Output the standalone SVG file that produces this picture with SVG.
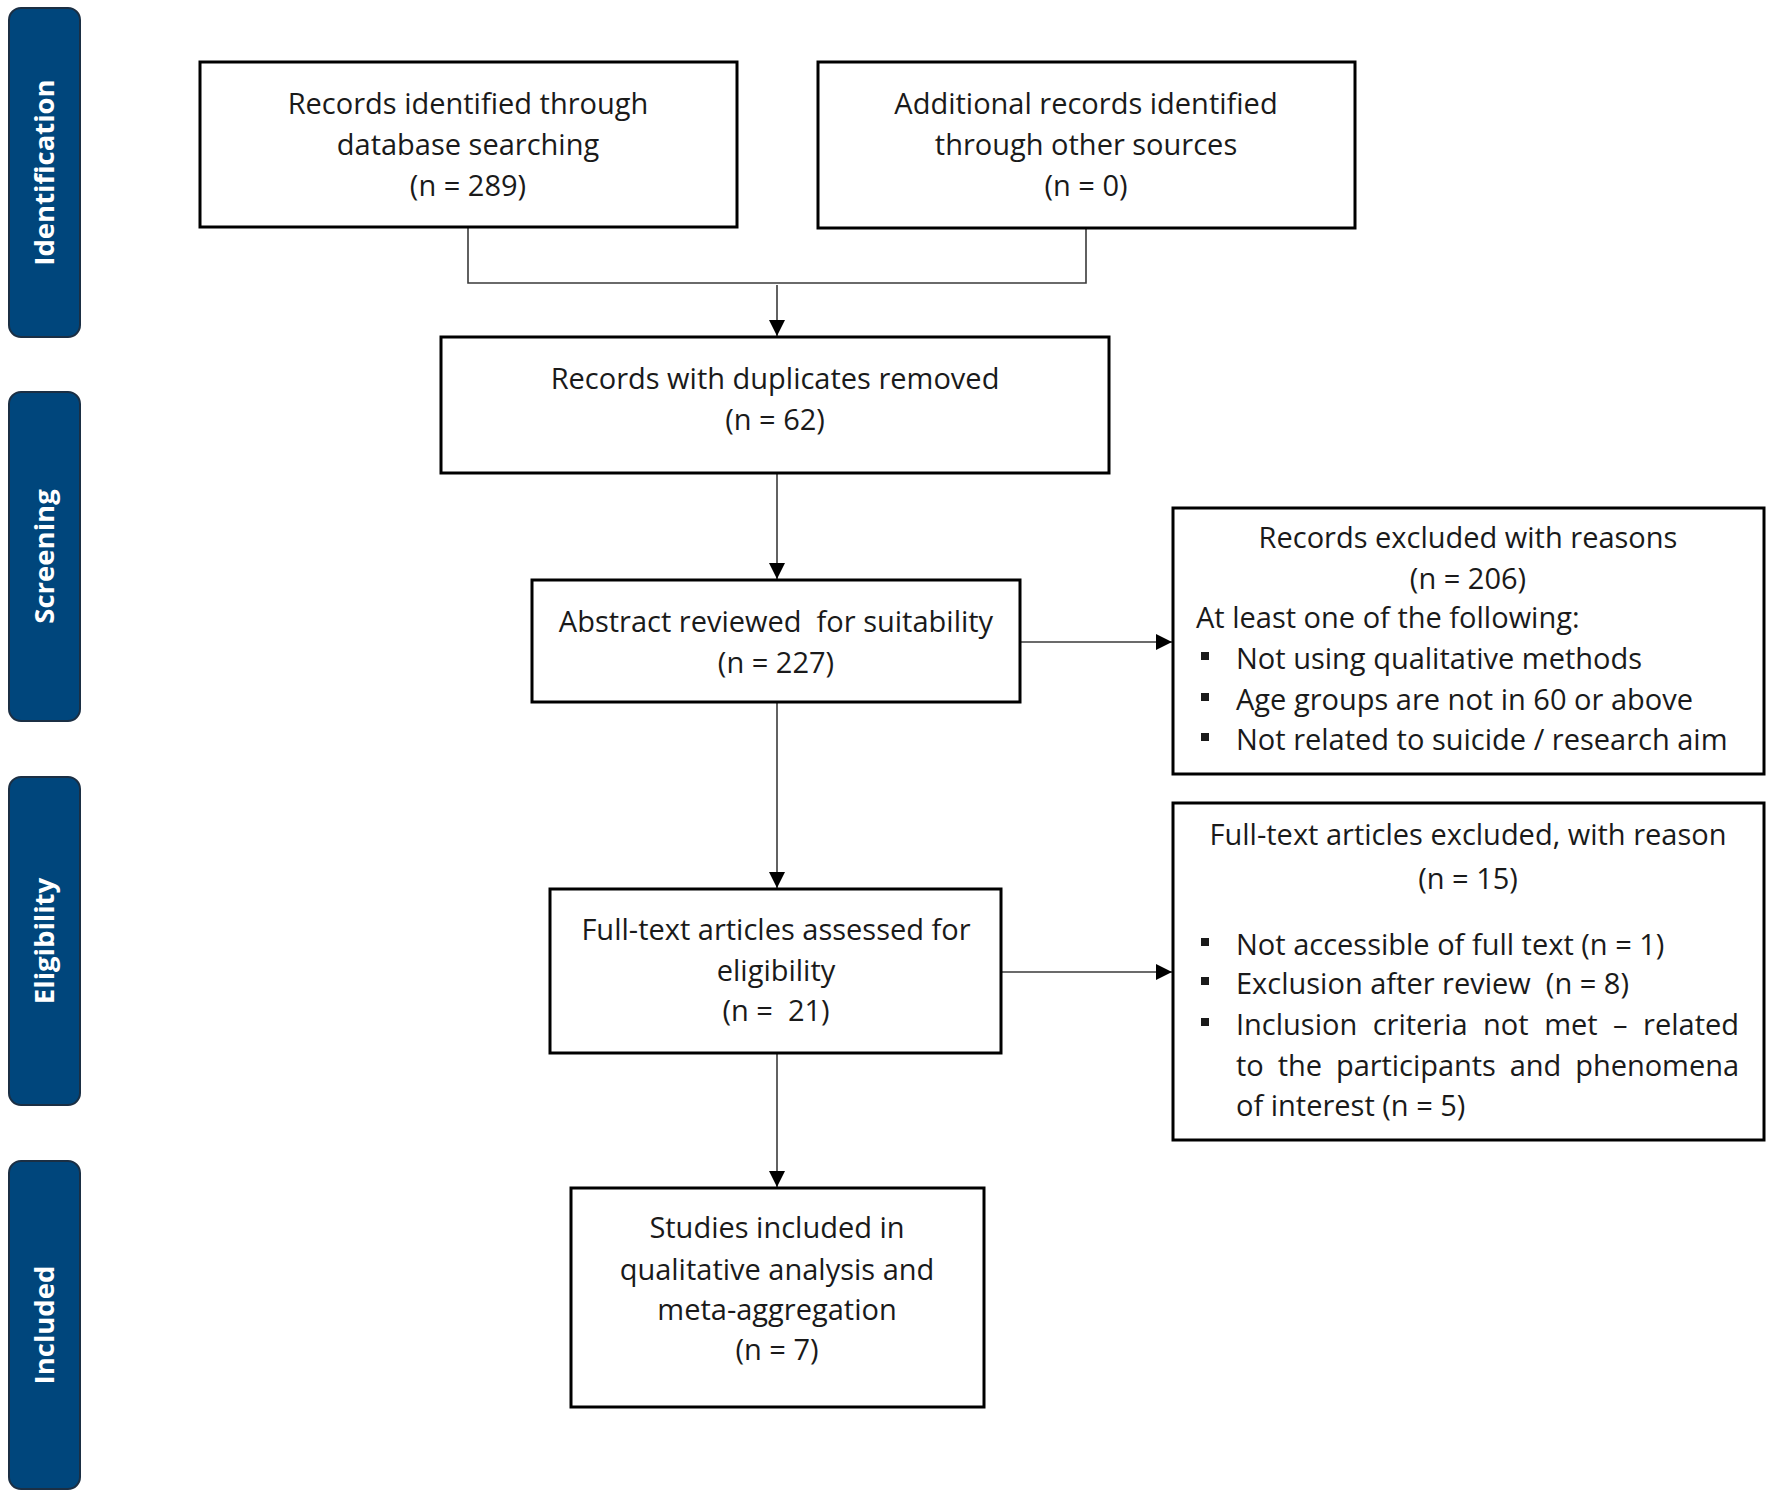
<svg xmlns="http://www.w3.org/2000/svg" width="1772" height="1498" viewBox="0 0 1772 1498">
<style>
.tab{fill:#00467c;stroke:#1b2f44;stroke-width:2}
.tabt{font-family:"Open Sans","DejaVu Sans",sans-serif;font-weight:bold;font-size:27.5px;fill:#ffffff;text-anchor:middle}
.box{fill:#ffffff;stroke:#000000;stroke-width:3}
.t{font-family:"Open Sans","Liberation Sans",sans-serif;font-size:29px;fill:#1a1a1a;white-space:pre}
.c{text-anchor:middle}
.ln{fill:none;stroke:#3a3a3a;stroke-width:1.6}
.bul{fill:#1a1a1a}
</style>
<defs>
<marker id="ah" viewBox="0 0 10 10" refX="10" refY="5" markerWidth="16" markerHeight="16" markerUnits="userSpaceOnUse" orient="auto">
<path d="M0,0 L10,5 L0,10 z" fill="#000000"/>
</marker>
</defs>
<rect width="1772" height="1498" fill="#ffffff"/>

<g id="tab-identification">
<rect class="tab" x="9" y="8" width="71" height="329" rx="12"/>
<text class="tabt" transform="translate(54,172.5) rotate(-90)">Identification</text>
</g>
<g id="tab-screening">
<rect class="tab" x="9" y="392" width="71" height="329" rx="12"/>
<text class="tabt" transform="translate(54,556.5) rotate(-90)">Screening</text>
</g>
<g id="tab-eligibility">
<rect class="tab" x="9" y="777" width="71" height="328" rx="12"/>
<text class="tabt" transform="translate(54,941) rotate(-90)">Eligibility</text>
</g>
<g id="tab-included">
<rect class="tab" x="9" y="1161" width="71" height="328" rx="12"/>
<text class="tabt" transform="translate(54,1325) rotate(-90)">Included</text>
</g>

<g id="connectors">
<path class="ln" d="M468,227 V283 H1086 V228"/>
<path class="ln" d="M777,285 V336" marker-end="url(#ah)"/>
<path class="ln" d="M777,473 V579" marker-end="url(#ah)"/>
<path class="ln" d="M777,702 V888" marker-end="url(#ah)"/>
<path class="ln" d="M777,1053 V1187" marker-end="url(#ah)"/>
<path class="ln" d="M1020,642 H1172" marker-end="url(#ah)"/>
<path class="ln" d="M1001,972 H1172" marker-end="url(#ah)"/>
</g>

<g id="node-database">
<rect class="box" x="200" y="62" width="537" height="165"/>
<text class="t c" x="468" y="114">Records identified through</text>
<text class="t c" x="468" y="155">database searching</text>
<text class="t c" x="468" y="196">(n = 289)</text>
</g>
<g id="node-other">
<rect class="box" x="818" y="62" width="537" height="166"/>
<text class="t c" x="1086" y="114">Additional records identified</text>
<text class="t c" x="1086" y="155">through other sources</text>
<text class="t c" x="1086" y="196">(n = 0)</text>
</g>
<g id="node-duplicates">
<rect class="box" x="441" y="337" width="668" height="136"/>
<text class="t c" x="775" y="389">Records with duplicates removed</text>
<text class="t c" x="775" y="430">(n = 62)</text>
</g>
<g id="node-abstract">
<rect class="box" x="532" y="580" width="488" height="122"/>
<text class="t c" x="776" y="632">Abstract reviewed  for suitability</text>
<text class="t c" x="776" y="673">(n = 227)</text>
</g>
<g id="node-fulltext">
<rect class="box" x="550" y="889" width="451" height="164"/>
<text class="t c" x="776" y="940">Full-text articles assessed for</text>
<text class="t c" x="776" y="981">eligibility</text>
<text class="t c" x="776" y="1021">(n =  21)</text>
</g>
<g id="node-included">
<rect class="box" x="571" y="1188" width="413" height="219"/>
<text class="t c" x="777" y="1238">Studies included in</text>
<text class="t c" x="777" y="1280">qualitative analysis and</text>
<text class="t c" x="777" y="1320">meta-aggregation</text>
<text class="t c" x="777" y="1360">(n = 7)</text>
</g>
<g id="node-excluded-records">
<rect class="box" x="1173" y="508" width="591" height="266"/>
<text class="t c" x="1468" y="548">Records excluded with reasons</text>
<text class="t c" x="1468" y="589">(n = 206)</text>
<text class="t" x="1196" y="628">At least one of the following:</text>
<rect class="bul" x="1201" y="652" width="8" height="8"/>
<text class="t" x="1236" y="669">Not using qualitative methods</text>
<rect class="bul" x="1201" y="693" width="8" height="8"/>
<text class="t" x="1236" y="710">Age groups are not in 60 or above</text>
<rect class="bul" x="1201" y="733" width="8" height="8"/>
<text class="t" x="1236" y="750">Not related to suicide / research aim</text>
</g>
<g id="node-excluded-fulltext">
<rect class="box" x="1173" y="803" width="591" height="337"/>
<text class="t c" x="1468" y="845">Full-text articles excluded, with reason</text>
<text class="t c" x="1468" y="889">(n = 15)</text>
<rect class="bul" x="1201" y="938" width="8" height="8"/>
<text class="t" x="1236" y="955">Not accessible of full text (n = 1)</text>
<rect class="bul" x="1201" y="977" width="8" height="8"/>
<text class="t" x="1236" y="994">Exclusion after review  (n = 8)</text>
<rect class="bul" x="1201" y="1018" width="8" height="8"/>
<text class="t" x="1236" y="1035" word-spacing="8" textLength="503" lengthAdjust="spacing">Inclusion criteria not met – related</text>
<text class="t" x="1236" y="1076" word-spacing="6.5" textLength="503" lengthAdjust="spacing">to the participants and phenomena</text>
<text class="t" x="1236" y="1116">of interest (n = 5)</text>
</g>
</svg>
